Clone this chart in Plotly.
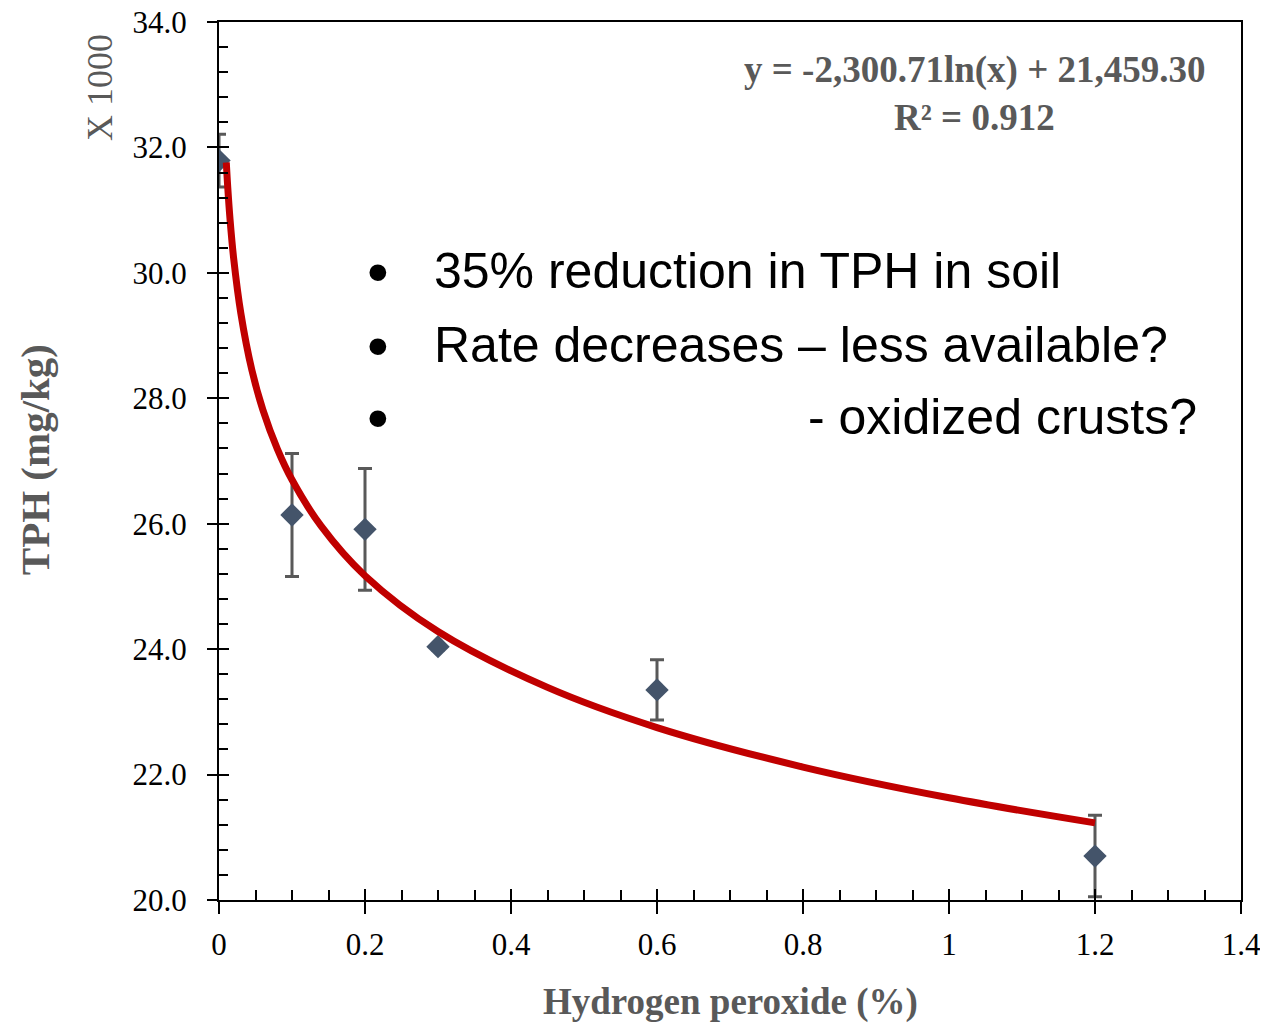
import plotly.graph_objects as go

# Measured data (TPH in thousands of mg/kg)
h2o2_pct = [0.0, 0.1, 0.2, 0.3, 0.6, 1.2]
tph_k = [31.79, 26.14, 25.91, 24.04, 23.35, 20.70]
tph_err = [0.42, 0.98, 0.97, 0.05, 0.48, 0.65]

# Trendline
trend_x = [0.01, 0.012, 0.015, 0.02, 0.03, 0.045, 0.06, 0.08, 0.1, 0.14, 0.2, 0.3, 0.45, 0.6, 0.8, 1.0, 1.2]
trend_y = [31.76, 31.36, 30.87, 30.24, 29.35, 28.45, 27.82, 27.19, 26.70, 25.96, 25.17, 24.28, 23.39, 22.75, 22.12, 21.63, 21.23]

x_ticks = [0, 0.2, 0.4, 0.6, 0.8, 1, 1.2, 1.4]
x_tick_text = ["0", "0.2", "0.4", "0.6", "0.8", "1", "1.2", "1.4"]

equation_text = "y = -2,300.71ln(x) + 21,459.30"
r2_text = "R² = 0.912"
bullets = ["35% reduction in TPH in soil", "Rate decreases \u2013 less available?", "- oxidized crusts?"]

SERIF = "Liberation Serif, Times New Roman, serif"
SANS = "Liberation Sans, Arial, sans-serif"
GRAY = "#595959"

fig = go.Figure()
fig.add_trace(go.Scatter(
    x=h2o2_pct, y=tph_k, mode="markers",
    marker=dict(symbol="diamond", size=18, color="#44546A"),
    error_y=dict(type="data", array=tph_err, visible=True, color=GRAY, thickness=3, width=7),
    showlegend=False, hoverinfo="skip"))
fig.add_trace(go.Scatter(
    x=trend_x, y=trend_y, mode="lines",
    line=dict(color="#C00000", width=7, shape="spline"),
    showlegend=False, hoverinfo="skip"))
# invisible helper trace so the overlay axes (inner ticks) are drawn
fig.add_trace(go.Scatter(x=h2o2_pct, y=tph_k, xaxis="x2", yaxis="y2", mode="markers",
                         marker=dict(opacity=0), showlegend=False, hoverinfo="skip"))

fig.update_layout(
    width=1268, height=1023,
    margin=dict(l=211, r=35, t=14, b=131),
    paper_bgcolor="white", plot_bgcolor="white",
    xaxis=dict(range=[0, 1.4], tickvals=x_ticks, ticktext=x_tick_text,
               ticks="outside", ticklen=12, tickwidth=2, tickcolor="black",
               showline=True, linecolor="black", linewidth=2, mirror=True,
               showgrid=False, zeroline=False, automargin=False,
               tickfont=dict(family=SERIF, size=31, color="black"),
               ticklabelstandoff=4, ticklabeloverflow="allow"),
    yaxis=dict(range=[20, 34], dtick=2, tick0=20, tickformat=".1f",
               ticks="outside", ticklen=10, tickwidth=2, tickcolor="black",
               showline=True, linecolor="black", linewidth=2, mirror=True,
               showgrid=False, zeroline=False, automargin=False,
               tickfont=dict(family=SERIF, size=31, color="black"),
               ticklabelstandoff=14, ticklabeloverflow="allow"),
    xaxis2=dict(range=[0, 1.4], overlaying="x", anchor="y", side="bottom",
                dtick=0.2, tick0=0, ticks="inside", ticklen=11, tickwidth=2, tickcolor="black",
                showticklabels=False, showline=False, showgrid=False, zeroline=False, automargin=False,
                minor=dict(dtick=0.05, tick0=0, ticks="inside", ticklen=10, tickwidth=2, tickcolor="black", showgrid=False)),
    yaxis2=dict(range=[20, 34], overlaying="y", anchor="x", side="left",
                dtick=2, tick0=20, ticks="inside", ticklen=10, tickwidth=2, tickcolor="black",
                showticklabels=False, showline=False, showgrid=False, zeroline=False, automargin=False,
                minor=dict(dtick=0.4, tick0=20, ticks="inside", ticklen=9, tickwidth=2, tickcolor="black", showgrid=False)),
)

ann = []
ann.append(dict(text="<b>TPH (mg/kg)</b>", x=-0.18, y=0.501, xref="paper", yref="paper",
                xanchor="center", yanchor="middle",
                textangle=-90, showarrow=False, font=dict(family=SERIF, size=41, color=GRAY)))
ann.append(dict(text="<b>Hydrogen peroxide (%)</b>", x=0.5, y=-0.116, xref="paper", yref="paper",
                xanchor="center", yanchor="middle",
                showarrow=False, font=dict(family=SERIF, size=37, color=GRAY)))
ann.append(dict(text="X 1000", x=-0.1164, y=0.9248, xref="paper", yref="paper",
                xanchor="center", yanchor="middle",
                textangle=-90, showarrow=False, font=dict(family=SERIF, size=36, color=GRAY)))
ann.append(dict(text="<b>" + equation_text + "</b>", x=0.7397, y=0.9453, xref="paper", yref="paper",
                xanchor="center", yanchor="middle",
                showarrow=False, font=dict(family=SERIF, size=37, color=GRAY)))
ann.append(dict(text="<b>" + r2_text + "</b>", x=0.7397, y=0.8907, xref="paper", yref="paper",
                xanchor="center", yanchor="middle",
                showarrow=False, font=dict(family=SERIF, size=37, color=GRAY)))

bullet_y = [0.7164, 0.6321, 0.5501]
text_x = [0.2084, 0.2084, 0.5744]
for i, t in enumerate(bullets):
    ann.append(dict(text="\u2022", x=0.1556, y=bullet_y[i], xref="paper", yref="paper",
                    xanchor="center", yanchor="middle",
                    showarrow=False, font=dict(family=SANS, size=62, color="black")))
    ann.append(dict(text=t, x=text_x[i], y=bullet_y[i], xref="paper", yref="paper",
                    xanchor="left", yanchor="middle", showarrow=False,
                    font=dict(family=SANS, size=50, color="black")))
fig.update_layout(annotations=ann)

fig.write_html("out.html")
